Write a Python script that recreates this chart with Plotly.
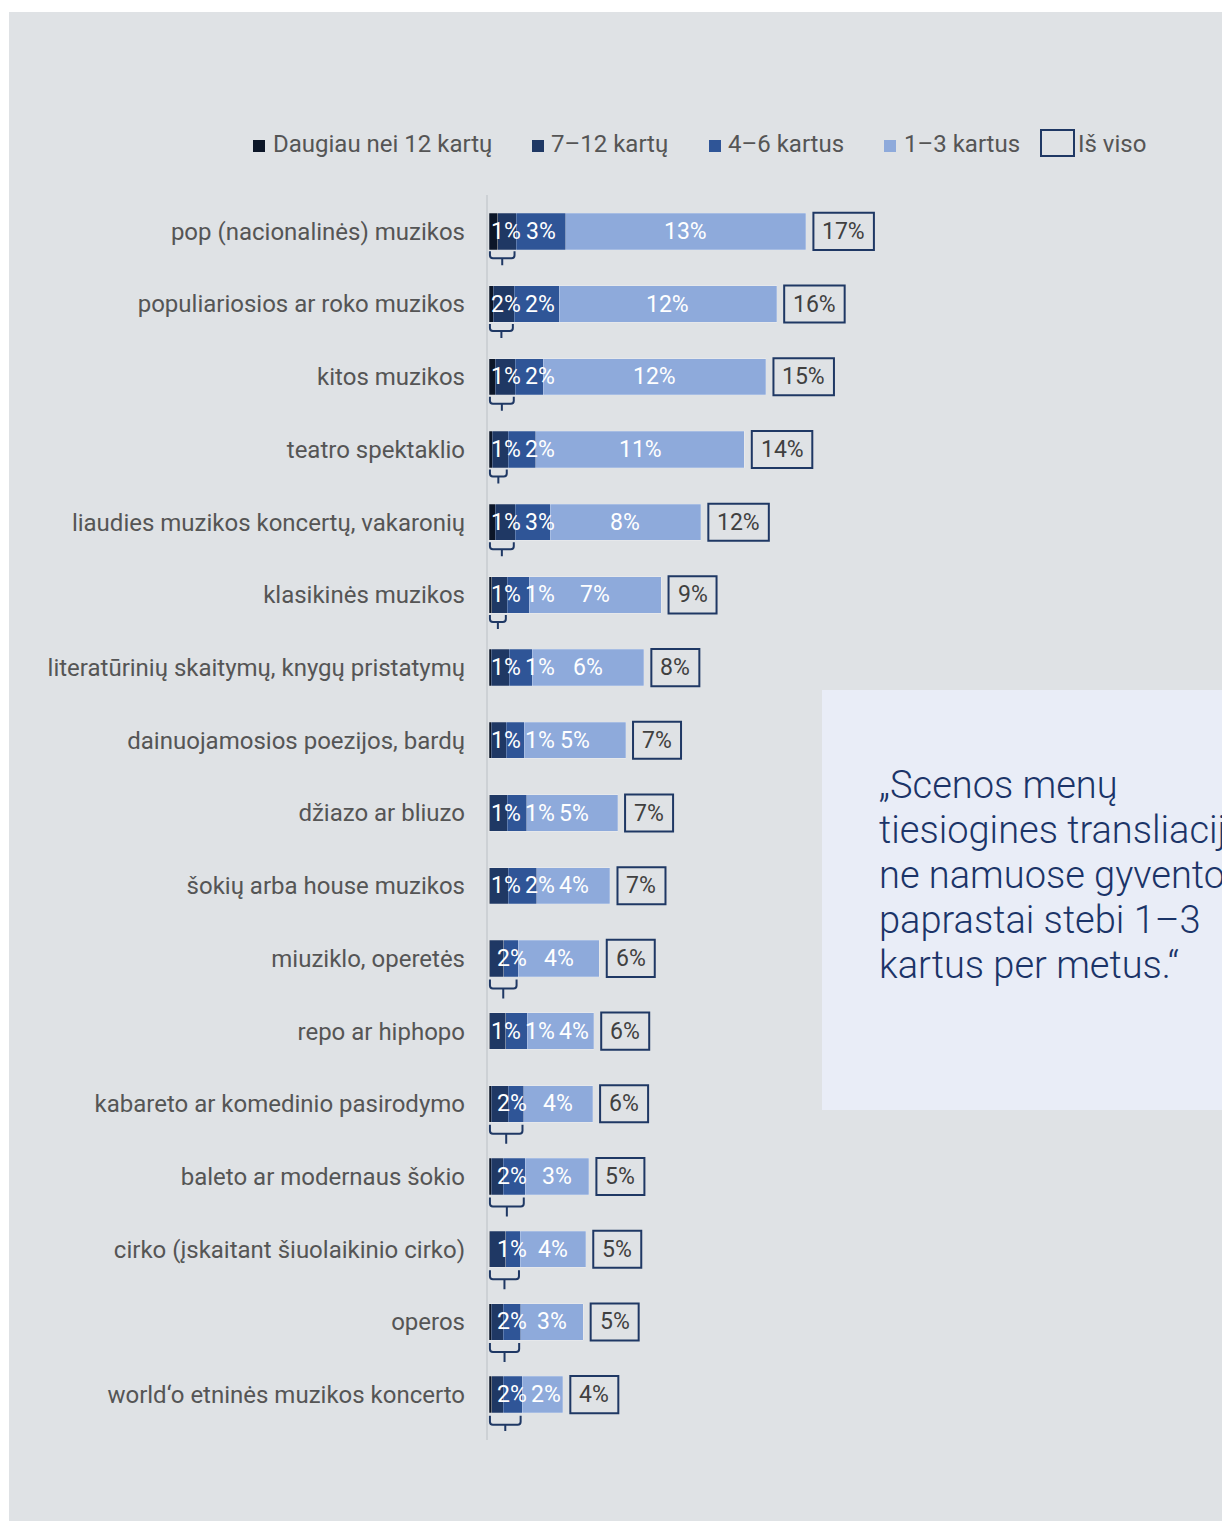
import plotly.graph_objects as go

# ---------------- data ----------------
categories = [
    "pop (nacionalinės) muzikos",
    "populiariosios ar roko muzikos",
    "kitos muzikos",
    "teatro spektaklio",
    "liaudies muzikos koncertų, vakaronių",
    "klasikinės muzikos",
    "literatūrinių skaitymų, knygų pristatymų",
    "dainuojamosios poezijos, bardų",
    "džiazo ar bliuzo",
    "šokių arba house muzikos",
    "miuziklo, operetės",
    "repo ar hiphopo",
    "kabareto ar komedinio pasirodymo",
    "baleto ar modernaus šokio",
    "cirko (įskaitant šiuolaikinio cirko)",
    "operos",
    "world‘o etninės muzikos koncerto",
]
series_names = ["Daugiau nei 12 kartų", "7–12 kartų", "4–6 kartus", "1–3 kartus"]
total_name = "Iš viso"

v_12plus = [0.47, 0.23, 0.34, 0.18, 0.34, 0.16, 0.11, 0.11, 0.05, 0.05, 0.03, 0.05, 0.12, 0.11, 0.05, 0.11, 0.15]
v_7_12 = [0.99, 1.14, 1.08, 0.86, 1.08, 0.83, 0.99, 0.83, 0.94, 0.99, 0.78, 0.86, 0.92, 0.66, 0.86, 0.66, 0.63]
v_4_6 = [2.70, 2.43, 1.50, 1.50, 1.88, 1.19, 1.23, 0.96, 1.06, 1.54, 0.76, 1.17, 0.85, 1.19, 0.79, 0.94, 1.01]
v_1_3 = [12.97, 11.75, 12.05, 11.26, 8.15, 7.12, 6.04, 5.48, 4.90, 3.96, 4.39, 3.58, 3.71, 3.44, 3.53, 3.38, 2.20]

# number of leading segments summarised by the first label, and whether a brace is drawn
group_size = [2, 2, 2, 2, 2, 2, 2, 2, 2, 2, 3, 2, 3, 3, 3, 3, 3]
has_brace = [1, 1, 1, 1, 1, 1, 0, 0, 0, 0, 1, 0, 1, 1, 1, 1, 1]

lab_first = ["1%", "2%", "1%", "1%", "1%", "1%", "1%", "1%", "1%", "1%", "2%", "1%", "2%", "2%", "1%", "2%", "2%"]
lab_4_6 = ["3%", "2%", "2%", "2%", "3%", "1%", "1%", "1%", "1%", "2%", None, "1%", None, None, None, None, None]
lab_1_3 = ["13%", "12%", "12%", "11%", "8%", "7%", "6%", "5%", "5%", "4%", "4%", "4%", "4%", "3%", "4%", "3%", "2%"]
lab_total = ["17%", "16%", "15%", "14%", "12%", "9%", "8%", "7%", "7%", "7%", "6%", "6%", "6%", "5%", "5%", "5%", "4%"]

quote_lines = [
    "„Scenos menų",
    "tiesiogines transliacijas",
    "ne namuose gyventojai",
    "paprastai stebi 1–3",
    "kartus per metus.“",
]

# ---------------- style ----------------
FONT = "Roboto"
C_DARK = "#0c1628"
C_712 = "#1f3864"
C_46 = "#2f5597"
C_13 = "#8eaadb"
C_BOX = "#1f3864"
BG = "#dfe2e5"
QUOTE_BG = "#e9edf7"
TXT = "#555555"

W_FIG, H_FIG = 1222, 1521
L, T = 487, 195
PW, PH = 705, 1236
PXU = 18.5  # pixels per percentage point
X0 = -2 / PXU
X1 = X0 + PW / PXU


def pxx(px):
    return (px - L) / PW


def pxy(py):
    return (T + PH - py) / PH


n = len(categories)
ys = list(range(n))

fig = go.Figure()
colors = [C_DARK, C_712, C_46, C_13]
for name, vals, col in zip(series_names, [v_12plus, v_7_12, v_4_6, v_1_3], colors):
    fig.add_trace(go.Bar(
        y=ys, x=vals, name=name, orientation="h",
        marker=dict(color=col, line=dict(color="rgba(255,255,255,0.28)", width=0.8)),
        width=0.5, showlegend=False, hoverinfo="x+name",
    ))

annotations = []
shapes = []

# background panels
shapes.append(dict(type="rect", xref="paper", yref="paper", x0=pxx(9), x1=pxx(1240),
                   y0=pxy(12), y1=pxy(1540), fillcolor=BG, line=dict(width=0), layer="below"))
shapes.append(dict(type="rect", xref="paper", yref="paper", x0=pxx(822), x1=pxx(1240),
                   y0=pxy(690), y1=pxy(1110), fillcolor=QUOTE_BG, line=dict(width=0), layer="below"))
# axis line
shapes.append(dict(type="line", xref="paper", yref="paper", x0=0, x1=0, y0=pxy(1440), y1=pxy(195),
                   line=dict(color="#cdd1d5", width=2), layer="below"))


def tw(s):
    return 12.5 * len(s) + 3  # approximate label width in px


for i in range(n):
    a, b, c, d = v_12plus[i], v_7_12[i], v_4_6[i], v_1_3[i]
    g = group_size[i]
    gend = a + b + (c if g == 3 else 0)
    labels = []
    labels.append((lab_first[i], gend / 2, (16.5 if g == 2 else 23) / PXU))
    if g == 2 and lab_4_6[i]:
        labels.append((lab_4_6[i], a + b + c / 2, 0))
    labels.append((lab_1_3[i], a + b + c + d / 2, 0))
    prev_c, prev_w = None, None
    for txt, center, minx in labels:
        w = tw(txt)
        cx = max(center, minx)
        if prev_c is not None:
            cx = max(cx, prev_c + ((prev_w + w) / 2 + 6) / PXU)
        annotations.append(dict(x=cx, y=i, xref="x", yref="y", text=txt, showarrow=False,
                                font=dict(family=FONT, size=23, color="white"),
                                xanchor="center", yanchor="middle"))
        prev_c, prev_w = cx, w

    # total box
    tot = a + b + c + d
    bx0 = tot + 7.5 / PXU
    bx1 = bx0 + (tw(lab_total[i]) + 20) / PXU
    shapes.append(dict(type="rect", xref="x", yref="y", x0=bx0, x1=bx1, y0=i - 0.255, y1=i + 0.255,
                       line=dict(color=C_BOX, width=2), fillcolor="rgba(0,0,0,0)"))
    annotations.append(dict(x=(bx0 + bx1) / 2, y=i, xref="x", yref="y", text=lab_total[i],
                            showarrow=False, font=dict(family=FONT, size=23, color="#404040"),
                            xanchor="center", yanchor="middle"))

    # brace under grouped segments
    if has_brace[i]:
        x0 = 0.05
        x1 = gend - 0.08
        xm = (x0 + x1) / 2
        if g == 3:
            yt, yh, yb = i + 21 / 72.7, i + 30 / 72.7, i + 40 / 72.7
        else:
            yt, yh, yb = i + 20 / 72.7, i + 27 / 72.7, i + 34 / 72.7
        r, rx = 3 / 72.7, 3 / PXU
        path = (f"M {x0},{yt} L {x0},{yh - r} Q {x0},{yh} {x0 + rx},{yh} "
                f"L {x1 - rx},{yh} Q {x1},{yh} {x1},{yh - r} L {x1},{yt} "
                f"M {xm},{yh} L {xm},{yb}")
        shapes.append(dict(type="path", xref="x", yref="y", path=path,
                           line=dict(color=C_BOX, width=2)))

# legend (manual)
leg_sq_x = [253, 532, 709, 884]
leg_txt_x = [271, 549, 726, 902]
for name, col, sx, tx in zip(series_names, colors, leg_sq_x, leg_txt_x):
    shapes.append(dict(type="rect", xref="paper", yref="paper", x0=pxx(sx), x1=pxx(sx + 12),
                       y0=pxy(152), y1=pxy(140), fillcolor=col, line=dict(width=0)))
    annotations.append(dict(x=pxx(tx), y=pxy(144), xref="paper", yref="paper", text=name,
                            showarrow=False, xanchor="left", yanchor="middle",
                            font=dict(family=FONT, size=24, color=TXT)))
shapes.append(dict(type="rect", xref="paper", yref="paper", x0=pxx(1041), x1=pxx(1074),
                   y0=pxy(156), y1=pxy(130), fillcolor="rgba(0,0,0,0)", line=dict(color=C_BOX, width=2)))
annotations.append(dict(x=pxx(1076), y=pxy(144), xref="paper", yref="paper", text=total_name,
                        showarrow=False, xanchor="left", yanchor="middle",
                        font=dict(family=FONT, size=24, color=TXT)))

# quote (clipped at the right edge, as in the original)
for k, line in enumerate(quote_lines):
    annotations.append(dict(x=pxx(877), y=pxy(785 + 45 * k), xref="paper", yref="paper", text=line,
                            showarrow=False, xanchor="left", yanchor="middle",
                            font=dict(family=FONT, size=38, color="#1b3468", weight=300)))

fig.update_layout(
    width=W_FIG, height=H_FIG, autosize=False,
    margin=dict(l=L, r=W_FIG - L - PW, t=T, b=H_FIG - T - PH, pad=0),
    paper_bgcolor="white", plot_bgcolor="rgba(0,0,0,0)",
    barmode="stack", bargap=0.5,
    showlegend=False,
    shapes=shapes, annotations=annotations,
    xaxis=dict(range=[X0, X1], visible=False, fixedrange=True),
    yaxis=dict(range=[n - 0.5, -0.5], tickvals=ys, ticktext=categories, showgrid=False,
               zeroline=False, showline=False,
               ticks="", ticklabelstandoff=21,
               tickfont=dict(family=FONT, size=24, color=TXT), fixedrange=True),
    font=dict(family=FONT),
)

fig.write_html(
    "out.html",
    config={"displayModeBar": False},
    post_script="document.body.style.margin='0';document.body.style.overflow='hidden';",
)
